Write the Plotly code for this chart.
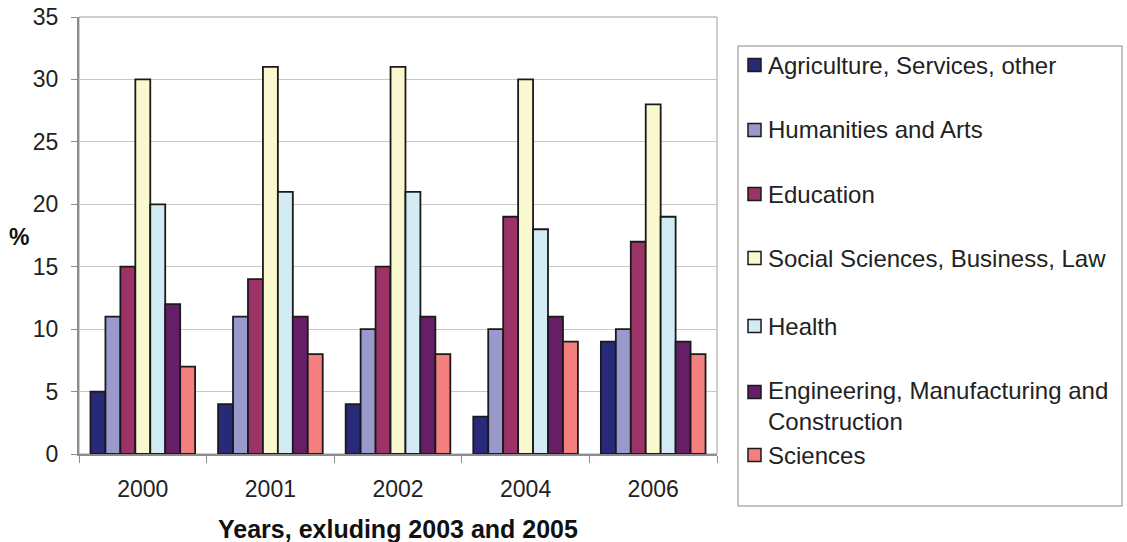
import plotly.graph_objects as go

years = ["2000", "2001", "2002", "2004", "2006"]

agriculture = [5, 4, 4, 3, 9]
humanities = [11, 11, 10, 10, 10]
education = [15, 14, 15, 19, 17]
social_sciences = [30, 31, 31, 30, 28]
health = [20, 21, 21, 18, 19]
engineering = [12, 11, 11, 11, 9]
sciences = [7, 8, 8, 9, 8]

series_names = [
    "Agriculture, Services, other",
    "Humanities and Arts",
    "Education",
    "Social Sciences, Business, Law",
    "Health",
    "Engineering, Manufacturing and<br>Construction",
    "Sciences",
]
series_values = [agriculture, humanities, education, social_sciences,
                 health, engineering, sciences]
colors = ["#29297A", "#9999CC", "#9C3366", "#FAF8CE",
          "#D2EBF5", "#661F66", "#F47F7F"]

FONT = "Liberation Sans, Arial, sans-serif"

fig = go.Figure()
for name, vals, col in zip(series_names, series_values, colors):
    fig.add_trace(go.Bar(
        x=years, y=vals, name=name.replace("<br>", " "),
        marker=dict(color=col, line=dict(color="#1a1a1a", width=1.8)),
        showlegend=False,
    ))

fig.update_layout(
    width=1127, height=542,
    margin=dict(l=79, r=410, t=17, b=88),
    paper_bgcolor="white", plot_bgcolor="white",
    barmode="group", bargap=0.18, bargroupgap=0,
    font=dict(family=FONT, size=23, color="#222222"),
)

fig.update_yaxes(
    range=[0, 35], dtick=5, tick0=0, automargin=False,
    showgrid=True, gridcolor="#C8C8C8", gridwidth=1,
    showline=True, linecolor="#8C8C8C", linewidth=2, mirror=False,
    ticks="outside", ticklen=6, tickcolor="#8C8C8C",
    ticklabelstandoff=8, zeroline=False,
    tickfont=dict(size=23, color="#222222"),
)
fig.update_xaxes(
    automargin=False,
    showline=True, linecolor="#8C8C8C", linewidth=2,
    ticks="outside", ticklen=7, tickcolor="#8C8C8C", tickson="boundaries",
    ticklabelstandoff=13,
    tickfont=dict(size=23, color="#222222"),
)

# plot area frame (top and right edges)
fig.add_shape(type="rect", xref="paper", yref="paper", x0=0, x1=1, y0=0, y1=1,
              line=dict(color="#A0A0A0", width=1), layer="below")

# pixel helpers for placing the legend and titles around the plot area
plot_x0, plot_x1 = 79, 717
plot_y0, plot_y1 = 17, 454


def px_x(px):
    return (px - plot_x0) / (plot_x1 - plot_x0)


def px_y(py):
    return (plot_y1 - py) / (plot_y1 - plot_y0)


# axis titles
fig.add_annotation(text="<b>%</b>", xref="paper", yref="paper",
                   x=px_x(19), y=px_y(237), xanchor="center", yanchor="middle",
                   showarrow=False, font=dict(size=23, color="#111111"))
fig.add_annotation(text="<b>Years, exluding 2003 and 2005</b>",
                   xref="paper", yref="paper", x=0.5, y=px_y(529),
                   xanchor="center", yanchor="middle",
                   showarrow=False, font=dict(size=25, color="#111111"))

# legend box
fig.add_shape(type="rect", xref="paper", yref="paper",
              x0=px_x(738), x1=px_x(1122), y0=px_y(506), y1=px_y(46),
              line=dict(color="#B0B0B0", width=1.5), fillcolor="white")

swatch_rows = [65, 130, 194, 258, 326, 392, 455]
text_rows = [65, 130, 194, 258, 326, 406, 455]
for name, col, srow, trow in zip(series_names, colors, swatch_rows, text_rows):
    fig.add_shape(type="rect", xref="paper", yref="paper",
                  x0=px_x(748), x1=px_x(761), y0=px_y(srow + 6.5), y1=px_y(srow - 6.5),
                  line=dict(color="#1a1a1a", width=1.5), fillcolor=col)
    fig.add_annotation(text=name, xref="paper", yref="paper",
                       x=px_x(766), y=px_y(trow), xanchor="left", yanchor="middle",
                       align="left", showarrow=False,
                       font=dict(size=24, color="#222222"))

fig.write_html("out.html")
